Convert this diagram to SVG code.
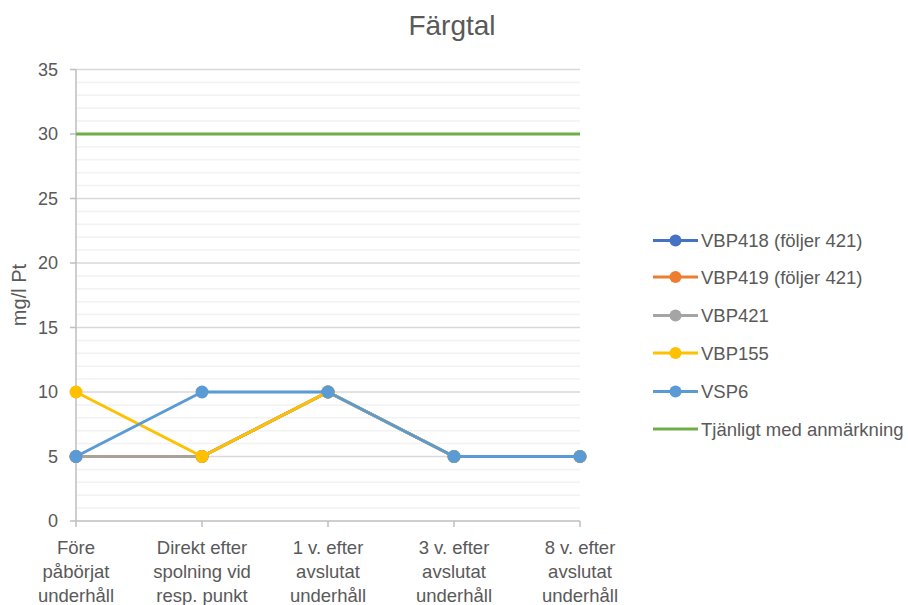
<svg xmlns="http://www.w3.org/2000/svg" width="908" height="605" viewBox="0 0 908 605">
<style>
text{font-family:"Liberation Sans",Arial,sans-serif;fill:#595959}
.tick{font-size:18px;text-anchor:end}
.cat{font-size:18.5px;text-anchor:middle}
.leg{font-size:18.5px}
.minor{stroke:#f2f2f2;stroke-width:1.5}
.major{stroke:#d9d9d9;stroke-width:1.5}
.axis{stroke:#bfbfbf;stroke-width:1.5;fill:none}
.ser{fill:none;stroke-width:3;stroke-linejoin:round}
</style>
<rect width="908" height="605" fill="#fff"/>
<text x="452" y="35" style="font-size:28px" text-anchor="middle">Färgtal</text>
<text transform="translate(26,295) rotate(-90)" style="font-size:20px" text-anchor="middle">mg/l Pt</text>
<g id="grid">
<path class="minor" d="M76 508.1H580M76 495.2H580M76 482.3H580M76 469.4H580M76 443.6H580M76 430.7H580M76 417.8H580M76 404.9H580M76 379.1H580M76 366.2H580M76 353.3H580M76 340.4H580M76 314.6H580M76 301.7H580M76 288.8H580M76 275.9H580M76 250.1H580M76 237.2H580M76 224.3H580M76 211.4H580M76 185.6H580M76 172.7H580M76 159.8H580M76 146.9H580M76 121.1H580M76 108.2H580M76 95.3H580M76 82.4H580"/>
<path class="major" d="M76 456.5H580M76 392H580M76 327.5H580M76 263H580M76 198.5H580M76 134H580M76 69.5H580"/>
</g>
<g id="axes">
<path class="axis" d="M76 69.5V521H580M70 521H76M70 456.5H76M70 392H76M70 327.5H76M70 263H76M70 198.5H76M70 134H76M70 69.5H76M76 521V527M202 521V527M328 521V527M454 521V527M580 521V527"/>
<text class="tick" x="58" y="527">0</text>
<text class="tick" x="58" y="462.5">5</text>
<text class="tick" x="58" y="398">10</text>
<text class="tick" x="58" y="333.5">15</text>
<text class="tick" x="58" y="269">20</text>
<text class="tick" x="58" y="204.5">25</text>
<text class="tick" x="58" y="140">30</text>
<text class="tick" x="58" y="75.5">35</text>
<text class="cat" x="76" y="554">Före</text>
<text class="cat" x="76" y="578">påbörjat</text>
<text class="cat" x="76" y="602">underhåll</text>
<text class="cat" x="202" y="554">Direkt efter</text>
<text class="cat" x="202" y="578">spolning vid</text>
<text class="cat" x="202" y="602">resp. punkt</text>
<text class="cat" x="328" y="554">1 v. efter</text>
<text class="cat" x="328" y="578">avslutat</text>
<text class="cat" x="328" y="602">underhåll</text>
<text class="cat" x="454" y="554">3 v. efter</text>
<text class="cat" x="454" y="578">avslutat</text>
<text class="cat" x="454" y="602">underhåll</text>
<text class="cat" x="580" y="554">8 v. efter</text>
<text class="cat" x="580" y="578">avslutat</text>
<text class="cat" x="580" y="602">underhåll</text>
</g>
<g id="connectors">
<g id="s418" fill="#4472c4">
<polyline class="ser" stroke="#4472c4" points="76,456.5 202,456.5 328,392 454,456.5 580,456.5"/>
<circle cx="76" cy="456.5" r="6.5"/><circle cx="202" cy="456.5" r="6.5"/><circle cx="328" cy="392" r="6.5"/><circle cx="454" cy="456.5" r="6.5"/><circle cx="580" cy="456.5" r="6.5"/>
</g>
<g id="s419" fill="#ed7d31">
<polyline class="ser" stroke="#ed7d31" points="76,456.5 202,456.5 328,392 454,456.5 580,456.5"/>
<circle cx="76" cy="456.5" r="6.5"/><circle cx="202" cy="456.5" r="6.5"/><circle cx="328" cy="392" r="6.5"/><circle cx="454" cy="456.5" r="6.5"/><circle cx="580" cy="456.5" r="6.5"/>
</g>
<g id="s421" fill="#a5a5a5" opacity="0.9">
<polyline class="ser" stroke="#a5a5a5" points="76,456.5 202,456.5 328,392 454,456.5 580,456.5"/>
<circle cx="76" cy="456.5" r="6.5"/><circle cx="202" cy="456.5" r="6.5"/><circle cx="328" cy="392" r="6.5"/><circle cx="454" cy="456.5" r="6.5"/><circle cx="580" cy="456.5" r="6.5"/>
</g>
<g id="s155" fill="#ffc000">
<polyline class="ser" stroke="#ffc000" points="76,392 202,456.5 328,392 454,456.5 580,456.5"/>
<circle cx="76" cy="392" r="6.5"/><circle cx="202" cy="456.5" r="6.5"/><circle cx="328" cy="392" r="6.5"/><circle cx="454" cy="456.5" r="6.5"/><circle cx="580" cy="456.5" r="6.5"/>
</g>
<g id="svsp6" fill="#5b9bd5">
<polyline class="ser" stroke="#5b9bd5" points="76,456.5 202,392 328,392 454,456.5 580,456.5"/>
<circle cx="76" cy="456.5" r="6.5"/><circle cx="202" cy="392" r="6.5"/><circle cx="328" cy="392" r="6.5"/><circle cx="454" cy="456.5" r="6.5"/><circle cx="580" cy="456.5" r="6.5"/>
</g>
<line id="sgreen" x1="76" y1="134" x2="580" y2="134" stroke="#70ad47" stroke-width="3"/>
</g>
<g id="legend">
<g id="leg418"><line x1="653" y1="240.5" x2="698" y2="240.5" stroke="#4472c4" stroke-width="3"/><circle cx="675.5" cy="240.5" r="6" fill="#4472c4"/><text class="leg" x="701" y="247">VBP418 (följer 421)</text></g>
<g id="leg419"><line x1="653" y1="277" x2="698" y2="277" stroke="#ed7d31" stroke-width="3"/><circle cx="675.5" cy="277" r="6" fill="#ed7d31"/><text class="leg" x="701" y="283.5">VBP419 (följer 421)</text></g>
<g id="leg421"><line x1="653" y1="315.5" x2="698" y2="315.5" stroke="#a5a5a5" stroke-width="3"/><circle cx="675.5" cy="315.5" r="6" fill="#a5a5a5"/><text class="leg" x="701" y="322">VBP421</text></g>
<g id="leg155"><line x1="653" y1="353" x2="698" y2="353" stroke="#ffc000" stroke-width="3"/><circle cx="675.5" cy="353" r="6" fill="#ffc000"/><text class="leg" x="701" y="359.5">VBP155</text></g>
<g id="legvsp6"><line x1="653" y1="391.5" x2="698" y2="391.5" stroke="#5b9bd5" stroke-width="3"/><circle cx="675.5" cy="391.5" r="6" fill="#5b9bd5"/><text class="leg" x="701" y="398">VSP6</text></g>
<g id="leggreen"><line x1="653" y1="429" x2="698" y2="429" stroke="#70ad47" stroke-width="3"/><text class="leg" x="701" y="435.5">Tjänligt med anmärkning</text></g>
</g>
</svg>
